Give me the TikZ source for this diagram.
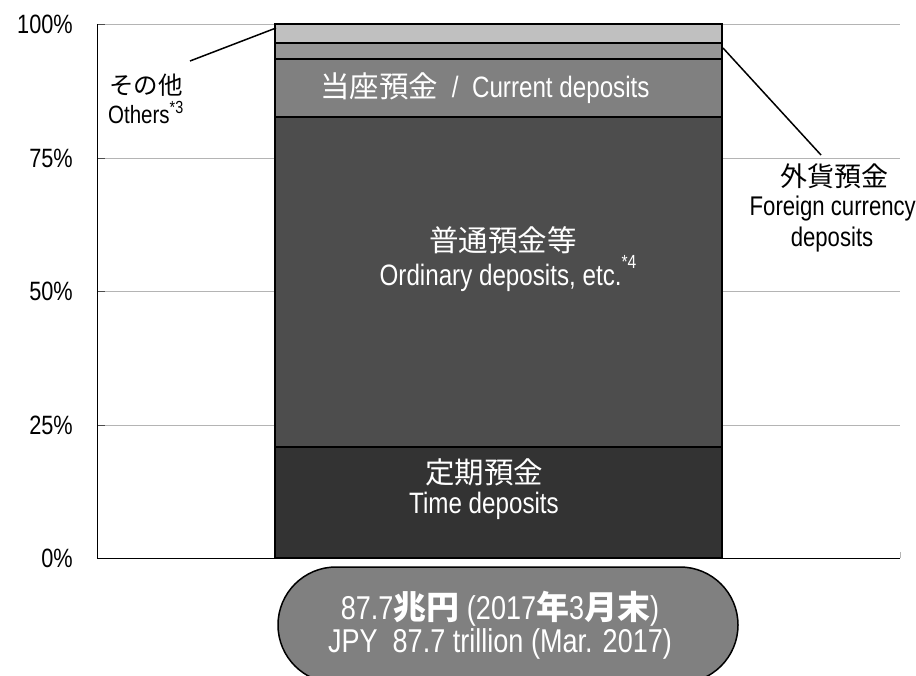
\documentclass[tikz,border=0pt]{standalone}
\usepackage{fontspec}
\setmainfont{Liberation Sans}[FakeStretch=0.82]
\newfontfamily\cjk{Noto Sans CJK JP}
\definecolor{cOth}{HTML}{C0C0C0}
\definecolor{cFor}{HTML}{969696}
\definecolor{cCur}{HTML}{808080}
\definecolor{cOrd}{HTML}{4D4D4D}
\definecolor{cTim}{HTML}{333333}
\definecolor{cGrid}{HTML}{B4B4B4}
\begin{document}
\begin{tikzpicture}[x=1pt,y=-1pt,
  seg/.style={draw=black,line width=2.5pt},
  grid/.style={draw=cGrid,line width=1pt},
  axis/.style={draw=black,line width=1pt},
  ylab/.style={anchor=east,font=\fontsize{26.5}{30}\selectfont,inner sep=0pt},
  barlab/.style={text=white,font=\fontsize{29.5}{34}\selectfont,inner sep=0pt},
  pilllab/.style={text=white,font=\fontsize{33}{38}\selectfont,inner sep=0pt},
  sidelab/.style={text=black,inner sep=0pt},
  leader/.style={draw=black,line width=1.5pt}]
\useasboundingbox (0,0) rectangle (916,675);
\fill[white] (0,0) rectangle (916,675);
% gridlines
\foreach \y in {24,158,291,425}{
  \draw[grid] (97,\y) -- (900,\y);
  \draw[draw=black!70,line width=1pt] (97,\y) -- (105,\y);
}
\draw[axis] (97,24) -- (97,558) -- (900,558);
\draw[grid] (900,552) -- (900,558);
% axis labels
\node[ylab] (l100) at (73,24) {100\%};
\node[ylab] (l75) at (73,158) {75\%};
\node[ylab] (l50) at (73,291) {50\%};
\node[ylab] (l25) at (73,425) {25\%};
\node[ylab] (l0) at (73,558) {0\%};
% bar segments
\filldraw[seg,fill=cTim] (275,447) rectangle (722,558);
\filldraw[seg,fill=cOrd] (275,117) rectangle (722,447);
\filldraw[seg,fill=cCur] (275,59) rectangle (722,117);
\filldraw[seg,fill=cFor] (275,43) rectangle (722,59);
\filldraw[seg,fill=cOth] (275,24) rectangle (722,43);
\coordinate (othEnd) at (276,28);
\coordinate (forEnd) at (723,48);
% bar labels
\node[barlab] (cur) at (485,88) {{\cjk 当座預金}\ \ /\ \ Current deposits};
\node[barlab] (ordj) at (503,240) {\cjk 普通預金等};
\node[barlab,anchor=base] (orde) at (508,285) {Ordinary deposits, etc.\raisebox{0.55em}{\fontsize{19}{20}\selectfont *4}};
\node[barlab] (timj) at (484,472) {\cjk 定期預金};
\node[barlab,anchor=base] (time) at (484,513) {Time deposits};
% others label
\node[sidelab,anchor=west,font=\fontsize{24.5}{28}\selectfont] (othj) at (109,85) {\cjk その他};
\node[sidelab,anchor=base west,font=\fontsize{25}{28}\selectfont] (othe) at (108,123) {Others\textsuperscript{*3}};
\coordinate (othStart) at (190,61);
\draw[leader] (othStart) -- (othEnd);
% foreign label
\node[sidelab,font=\fontsize{27}{30}\selectfont] (forj) at (834,176) {\cjk 外貨預金};
\node[sidelab,anchor=base east,font=\fontsize{27}{30}\selectfont] (fore1) at (916,215) {Foreign currency};
\node[sidelab,anchor=base,font=\fontsize{27}{30}\selectfont] (fore2) at (832,246) {deposits};
\coordinate (forStart) at (821,155);
\draw[leader] (forStart) -- (forEnd);
% pill
\begin{scope}
\clip (0,0) rectangle (916,675);
\filldraw[fill=cCur,draw=black,line width=1.5pt,rounded corners=58pt] (278,567) rectangle (738,683);
\end{scope}
\node[pilllab,anchor=base] (tot1) at (500,619) {87.7{\cjk\bfseries 兆円} (2017{\cjk\bfseries 年}3{\cjk\bfseries 月末})};
\node[pilllab,anchor=base] (tot2) at (500,652) {JPY\ \ 87.7 trillion (Mar. 2017)};
\end{tikzpicture}
\end{document}
